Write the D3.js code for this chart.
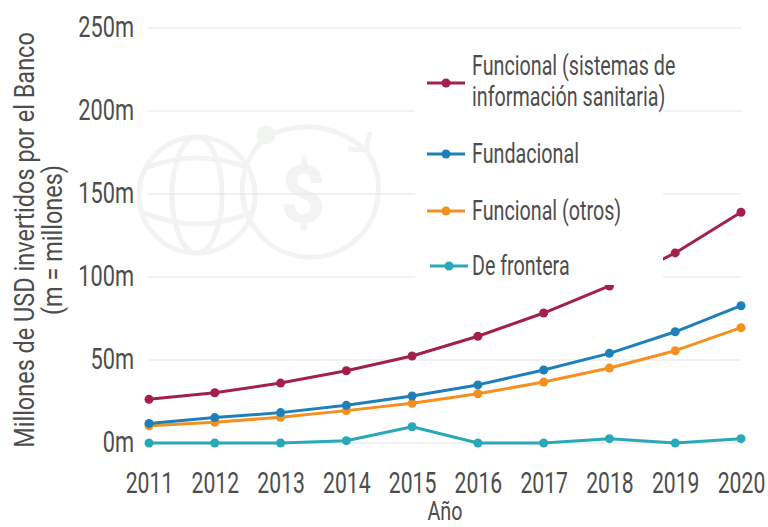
<!DOCTYPE html>
<html>
<head>
<meta charset="utf-8">
<script src="https://cdn.jsdelivr.net/npm/d3@7"></script>
<style>
  html, body { margin: 0; padding: 0; background: #fff; }
  svg { display: block; }
  text { font-family: Roboto, "Liberation Sans", sans-serif; fill: #4d4d4d; }
</style>
</head>
<body>
<svg id="chart" width="768" height="527"></svg>
<script>
// ── Data ───────────────────────────────────────────────
var years = [2011, 2012, 2013, 2014, 2015, 2016, 2017, 2018, 2019, 2020];
var sistemasSanitaria = [26.3, 30.3, 36.1, 43.5, 52.4, 64.3, 78.3, 94.6, 114.5, 139.0];
var fundacional       = [11.8, 15.3, 18.3, 22.7, 28.3, 35.0, 44.0, 54.0, 67.0, 82.7];
var funcionalOtros    = [10.4, 12.5, 15.5, 19.5, 23.9, 29.7, 36.7, 45.2, 55.6, 69.5];
var deFrontera        = [0, 0, 0, 1.4, 9.8, 0, 0, 2.6, 0, 2.6];
var yTicks = [0, 50, 100, 150, 200, 250];

var series = [
  { name: ["Funcional (sistemas de", "información sanitaria)"], values: sistemasSanitaria, color: "#a3204a" },
  { name: ["Fundacional"], values: fundacional, color: "#1f80b9" },
  { name: ["Funcional (otros)"], values: funcionalOtros, color: "#f5901e" },
  { name: ["De frontera"], values: deFrontera, color: "#28a8b9" }
];

var svg = d3.select("#chart");

var x = d3.scaleLinear().domain([2011, 2020]).range([149, 741]);
var y = d3.scaleLinear().domain([0, 250]).range([443, 28]);

// The original font is a condensed face; squeeze Roboto horizontally.
function condensed(sel, size, sx) {
  sel.style("font-size", size + "px").attr("transform", "scale(" + sx + ",1)");
}

// ── Watermark (faint logo) ─────────────────────────────
var wmColor = "#f2f4f2";
var wm = svg.append("g")
  .attr("fill", "none")
  .attr("stroke", wmColor)
  .attr("stroke-width", 5);
wm.append("circle").attr("cx", 197).attr("cy", 195).attr("r", 58);
wm.append("ellipse").attr("cx", 197).attr("cy", 195).attr("rx", 25).attr("ry", 58);
wm.append("path").attr("d", "M145,168 Q197,148 249,168");
wm.append("path").attr("d", "M142,212 Q197,236 252,212");
wm.append("path").attr("d", "M268,136 A68,68 0 1 0 366,150");
wm.append("path").attr("d", "M268,136 Q320,112 366,150");
wm.append("circle").attr("cx", 266).attr("cy", 135).attr("r", 7).attr("fill", wmColor);
wm.append("path").attr("d", "M366,150 L370,132 M366,150 L348,149");
wm.append("text")
  .attr("x", 303).attr("y", 222)
  .attr("text-anchor", "middle")
  .style("font-size", "80px")
  .style("font-weight", "bold")
  .style("fill", wmColor)
  .attr("stroke", "none")
  .text("$");

// ── Grid ───────────────────────────────────────────────
svg.append("g")
  .selectAll("line")
  .data(yTicks)
  .join("line")
  .attr("x1", x(2011) - 1).attr("x2", x(2020))
  .attr("y1", function(d) { return y(d); })
  .attr("y2", function(d) { return y(d); })
  .attr("stroke", "#e3e3e3")
  .attr("stroke-width", 1);

// ── Axes ───────────────────────────────────────────────
var yAxis = svg.append("g")
  .attr("transform", "translate(134,0)")
  .call(d3.axisLeft(y).tickValues(yTicks).tickSize(0).tickPadding(0)
    .tickFormat(function(d) { return d + "m"; }));
yAxis.select(".domain").remove();
yAxis.selectAll("text").attr("fill", "#4d4d4d").attr("x", 0).attr("dy", "0.3em").call(condensed, 29, 0.75);

var xAxis = svg.append("g")
  .attr("transform", "translate(0,493)")
  .call(d3.axisBottom(x).tickValues(years).tickSize(0).tickPadding(0)
    .tickFormat(d3.format("d")));
xAxis.select(".domain").remove();
xAxis.selectAll("text").attr("fill", "#4d4d4d").attr("y", 0).attr("dy", 0).call(condensed, 29, 0.73);

svg.append("text")
  .attr("transform", "translate(" + ((x(2011) + x(2020)) / 2) + ",520) scale(0.76,1)")
  .attr("text-anchor", "middle")
  .style("font-size", "26px")
  .text("Año");

var yTitle = svg.append("text")
  .attr("transform", "translate(0,240) rotate(-90) scale(0.87,1)")
  .attr("text-anchor", "middle")
  .style("font-size", "27px");
yTitle.append("tspan").attr("x", 0).attr("y", 34).text("Millones de USD invertidos por el Banco");
yTitle.append("tspan").attr("x", 0).attr("y", 62).text("(m = millones)");

// ── Lines ──────────────────────────────────────────────
var line = d3.line()
  .x(function(d, i) { return x(years[i]); })
  .y(function(d) { return y(d); });

series.slice().reverse().forEach(function(s) {
  var g = svg.append("g");
  g.append("path")
    .datum(s.values)
    .attr("fill", "none")
    .attr("stroke", s.color)
    .attr("stroke-width", 3)
    .attr("stroke-linejoin", "round")
    .attr("d", line);
  g.selectAll("circle")
    .data(s.values)
    .join("circle")
    .attr("cx", function(d, i) { return x(years[i]); })
    .attr("cy", function(d) { return y(d); })
    .attr("r", 4.5)
    .attr("fill", s.color);
});

// ── Legend ─────────────────────────────────────────────
var legend = svg.append("g");
legend.append("rect")
  .attr("x", 415).attr("y", 45).attr("width", 248).attr("height", 240)
  .attr("fill", "#fff");

var legendY = [83, 154, 211, 266];
series.forEach(function(s, i) {
  var cy = legendY[i];
  var lx = i === 3 ? 430 : 427;
  legend.append("line")
    .attr("x1", lx).attr("x2", lx + 38)
    .attr("y1", cy).attr("y2", cy)
    .attr("stroke", s.color).attr("stroke-width", 3);
  legend.append("circle")
    .attr("cx", lx + 19).attr("cy", cy).attr("r", 4.5)
    .attr("fill", s.color);
  var t = legend.append("text")
    .attr("transform", "translate(472,0) scale(0.73,1)")
    .style("font-size", "27px");
  if (s.name.length === 2) {
    t.append("tspan").attr("x", 0).attr("y", cy - 17).attr("dy", "0.35em").text(s.name[0]);
    t.append("tspan").attr("x", 0).attr("y", cy + 14).attr("dy", "0.35em").text(s.name[1]);
  } else {
    t.attr("y", cy).attr("dy", "0.35em").text(s.name[0]);
  }
});
</script>
</body>
</html>
